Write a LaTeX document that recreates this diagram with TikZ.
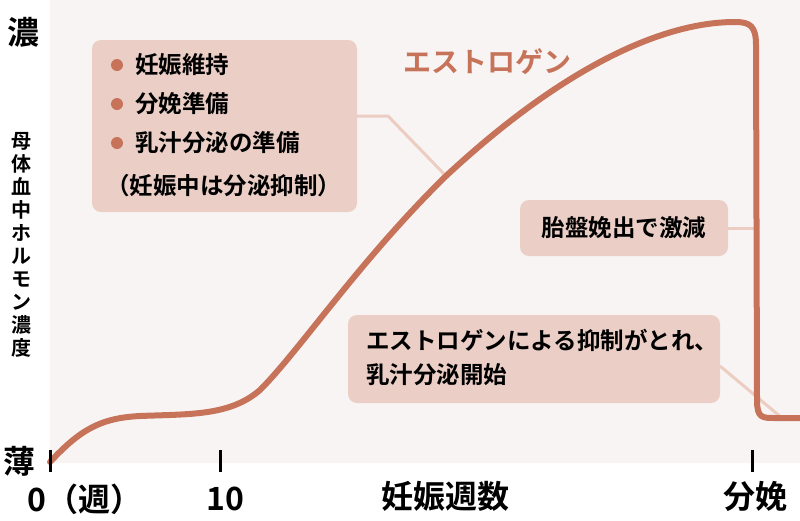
\documentclass[tikz,border=0pt]{standalone}
\usepackage{fontspec}
\setmainfont{Noto Sans CJK JP Bold}
\begin{document}
\begin{tikzpicture}[x=1pt,y=-1pt,
  box/.style={fill=boxc,rounded corners=9pt,inner sep=0pt},
  lead/.style={draw=leadc,line width=3pt},
  tick/.style={line width=3pt},
  lab/.style={font=\fontsize{23.5}{26}\selectfont,anchor=west,inner sep=0pt}]
\definecolor{bgc}{HTML}{F8F4F4}
\definecolor{boxc}{HTML}{EBCFC6}
\definecolor{leadc}{HTML}{ECCDC2}
\definecolor{curc}{HTML}{C6735A}
\useasboundingbox (0,0) rectangle (800,520);
\fill[white] (0,0) rectangle (800,520);
\fill[bgc] (50,0) rectangle (800,463);
% leaders
\coordinate (p1) at (446,176);
\coordinate (p2) at (757,228);
\coordinate (p3) at (782,418);
\draw[lead] (357,116) -- (388,116) -- (p1);
\draw[lead] (728,228) -- (p2);
\draw[lead] (720,366) -- (p3);
% curve
\draw[curc,line width=6pt,line cap=round] (50,462)
  .. controls (80,430) and (100,418) .. (140,416)
  .. controls (190,414) and (230,416) .. (260,390)
  .. controls (300,350) and (360,260) .. (446,176)
  .. controls (560,70) and (660,22) .. (735,22)
  .. controls (750,22) and (756,26) .. (756,45)
  -- (757,400) .. controls (757,418) and (762,418) .. (775,418) -- (800,418);
% boxes
\node[box,minimum width=265pt,minimum height=172pt] (b1) at (224.5,126) {};
\foreach \i/\t in {0/妊娠維持,1/分娩準備,2/乳汁分泌の準備}{
  \fill[curc] (117,{65+\i*39}) circle (6pt);
  \node[lab] at (135,{65+\i*39}) {\t};}
\node[lab] (b1t) at (106,186) {（妊娠中は分泌抑制）};
\node[box,minimum width=208pt,minimum height=56pt] (b2) at (624,228) {};
\node[lab,anchor=center] at (b2) {胎盤娩出で激減};
\node[box,minimum width=372pt,minimum height=88pt] (b3) at (534,359) {};
\node[lab] at (366,340) {エストロゲンによる抑制がとれ、};
\node[lab] at (366,375) {乳汁分泌開始};
\node[font=\fontsize{28}{30}\selectfont,text=curc] (es) at (487,62) {エストロゲン};
% axes labels
\node[font=\fontsize{32}{34}\selectfont] (hi) at (24,32) {濃};
\node[font=\fontsize{32}{34}\selectfont] (lo) at (20,461) {薄};
\node[font=\fontsize{20}{23}\selectfont,align=center] (yl) at (22,245) {母\\体\\血\\中\\ホ\\ル\\モ\\ン\\濃\\度};
\foreach \x in {50,220,752} \draw[tick] (\x,450) -- (\x,472);
\node[font=\fontsize{32}{34}\selectfont] at (85,499) {0（週）};
\node[font=\fontsize{32}{34}\selectfont] at (225,499) {10};
\node[font=\fontsize{32}{34}\selectfont] at (445,496) {妊娠週数};
\node[font=\fontsize{32}{34}\selectfont] at (755,496) {分娩};
\end{tikzpicture}
\end{document}
